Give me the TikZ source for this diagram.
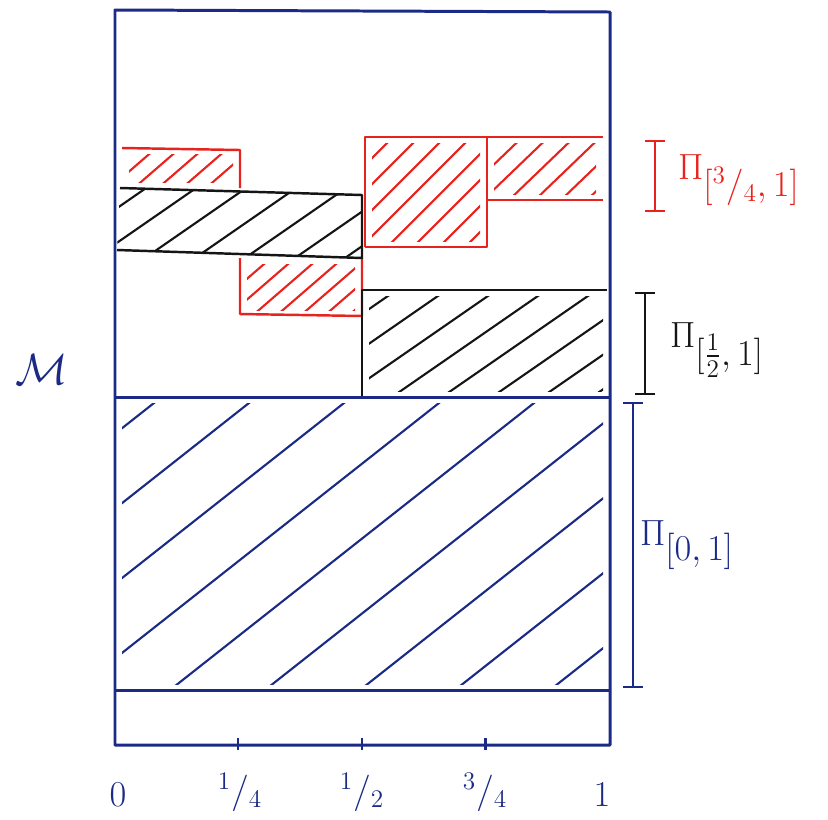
\documentclass[tikz,border=0pt]{standalone}
\usepackage{amsmath}
\usepackage{xcolor}
\usetikzlibrary{arrows.meta,positioning,calc}
\definecolor{penBlue}{HTML}{1B2A84}
\definecolor{penRed}{HTML}{E8231E}
\definecolor{penBlack}{HTML}{151515}
\tikzset{
  bluePen/.style={draw=penBlue, line width=1.7pt, line join=round},
  redPen/.style={draw=penRed, line width=1.4pt, line join=round},
  blackPen/.style={draw=penBlack, line width=1.4pt, line join=round},
  hatchLine/.style={line width=1.2pt, line cap=round},
  tickMark/.style={draw=penBlue, line width=1.7pt},
  intervalBar/.style={{Bar[width=4mm,line width=1.2pt]}-{Bar[width=4mm,line width=1.2pt]}, line width=1.2pt},
  axisLabel/.style={text=penBlue, font=\fontsize{20}{22}\selectfont},
  projLabel/.style={anchor=west, font=\fontsize{22}{24}\selectfont},
}
% hatching of a box: colour, x1, y1, x2, y2, gap, rise
\newcommand{\hatchbox}[7]{%
  \begin{scope}
    \clip (#2+7,#3+6) rectangle (#4-7,#5-6);
    \foreach \s in {0,#6,...,1000}
      \draw[hatchLine, #1] (#2-420+\s,#5) -- ++(520,-#7);
  \end{scope}}

\begin{document}
\begin{tikzpicture}[x=0.02cm, y=-0.02cm]
  \useasboundingbox (0,0) rectangle (828,819);

  % blue hatched part M_[0,1]
  \hatchbox{penBlue}{115}{397}{610}{690}{95}{410}
  % black parts
  \hatchbox{penBlack}{362}{290}{610}{397}{50}{360}
  \begin{scope}
    \clip (120,188) -- (362,195) -- (362,258) -- (117,250) -- cycle;
    \foreach \s in {0,50,...,1000}
      \draw[hatchLine, penBlack] (115-420+\s,258) -- ++(520,-360);
  \end{scope}
  % red parts
  \hatchbox{penRed}{122}{148}{240}{188}{24}{450}
  \hatchbox{penRed}{240}{258}{362}{316}{24}{450}
  \hatchbox{penRed}{365}{137}{487}{247}{26}{520}
  \hatchbox{penRed}{487}{137}{603}{200}{26}{500}

  \draw[redPen] (122,148) -- (240,150) -- (240,188);
  \draw[redPen] (240,258) -- (240,314) -- (362,316) -- (362,258);
  \draw[redPen] (365,247) -- (365,137) -- (603,137);
  \draw[redPen] (365,247) -- (487,247) -- (487,137);
  \draw[redPen] (487,200) -- (603,200);

  \draw[blackPen] (120,188) -- (362,195) -- (362,258) -- (117,250);
  \draw[blackPen] (362,397) -- (362,290) -- (607,290);

  % the space M
  \draw[bluePen] (115,10) -- (610,12) -- (610,745) -- (115,745) -- cycle;
  \draw[bluePen] (115,397) -- (610,397);
  \draw[bluePen] (115,690) -- (610,690);
  \foreach \x in {238,362,485}
    \draw[tickMark] (\x,738) -- (\x,750);

  \node[text=penBlue, font=\fontsize{42}{44}\selectfont] (mlabel) at (42,370) {$\mathcal{M}$};

  % values of the parameter
  \node[axisLabel] (t0) at (118,795) {$0$};
  \node[axisLabel] (t1) at (240,792) {$^{1}/_{4}$};
  \node[axisLabel] (t2) at (362,792) {$^{1}/_{2}$};
  \node[axisLabel] (t3) at (485,792) {$^{3}/_{4}$};
  \node[axisLabel] (t4) at (602,795) {$1$};

  % projections
  \coordinate (ra) at (655,140);
  \coordinate (rb) at (655,212);
  \coordinate (ka) at (645,292);
  \coordinate (kb) at (645,395);
  \coordinate (ba) at (633,402);
  \coordinate (bb) at (633,688);
  \draw[intervalBar, penRed] (ra) -- (rb);
  \draw[intervalBar, penBlack] (ka) -- (kb);
  \draw[intervalBar, penBlue] (ba) -- (bb);
  \node[projLabel, text=penRed] (pired) at (672,180) {$\Pi_{\textstyle[{}^{3}/_{4},1]}$};
  \node[projLabel, text=penBlack] (piblack) at (664,350) {$\Pi_{\textstyle[\frac{1}{2},1]}$};
  \node[projLabel, text=penBlue] (piblue) at (634,545) {$\Pi_{\textstyle[0,1]}$};
\end{tikzpicture}
\end{document}
